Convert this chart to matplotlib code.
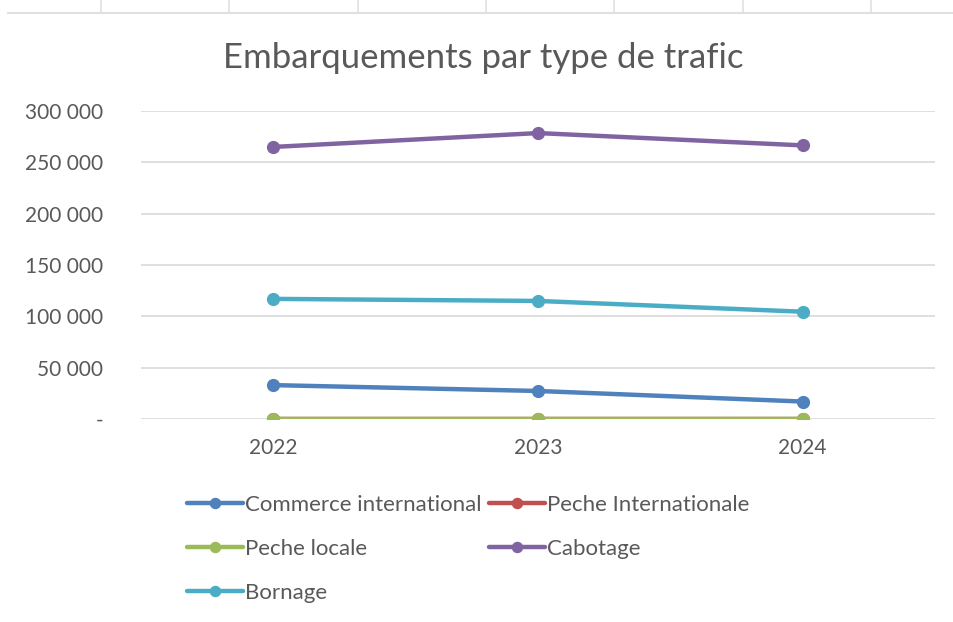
import matplotlib
matplotlib.use("Agg")
import matplotlib.pyplot as plt
from matplotlib.ticker import FuncFormatter, MultipleLocator
from matplotlib.lines import Line2D

plt.rcParams["font.family"] = ["Lato", "DejaVu Sans"]

YEARS = ["2022", "2023", "2024"]
SERIES = ["Commerce international", "Peche Internationale", "Peche locale",
          "Cabotage", "Bornage"]
COMMERCE = [33000, 27300, 17000]
PECHE_INT = [0, 0, 0]
PECHE_LOC = [0, 0, 0]
CABOTAGE = [265000, 278500, 266500]
BORNAGE = [117000, 115000, 104500]
COLORS = ["#4F81BD", "#C0504D", "#9BBB59", "#8064A2", "#4BACC6"]

TXT = "#595959"
GRID = "#D9D9D9"

fig = plt.figure(figsize=(9.54, 6.22), dpi=100)
ax = fig.add_axes([141 / 954, 1 - 419 / 622, 794 / 954, 308 / 622])

x = range(len(YEARS))
handles = []
for vals, name, c in zip([COMMERCE, PECHE_INT, PECHE_LOC, CABOTAGE, BORNAGE],
                         SERIES, COLORS):
    h, = ax.plot(x, vals, color=c, lw=3.2, marker="o", ms=8.5,
                 solid_capstyle="round", label=name, zorder=3)
    handles.append(h)

ax.set_xlim(-0.5, 2.5)
ax.set_ylim(0, 300000)
ax.set_xticks(list(x))
ax.set_xticklabels(YEARS)
ax.yaxis.set_major_locator(MultipleLocator(50000))
ax.yaxis.set_major_formatter(FuncFormatter(
    lambda v, p: "-" if v == 0 else f"{int(v):,}".replace(",", " ")))
ax.grid(axis="y", color=GRID, lw=1.2, zorder=0)
for s in ax.spines.values():
    s.set_visible(False)
ax.tick_params(length=0, colors=TXT, labelsize=15)
ax.tick_params(axis="y", pad=27)
ax.tick_params(axis="x", pad=14)

fig.text(483 / 954, 1 - 58 / 622, "Embarquements par type de trafic",
         ha="center", va="center", fontsize=25, color=TXT)

# legend in Excel's row-wise order (matplotlib fills columns first)
order = [0, 2, 4, 1, 3]
leg = fig.legend([handles[i] for i in order], [SERIES[i] for i in order],
                 ncol=2, loc="upper left", bbox_to_anchor=(176 / 954, 1 - 484 / 622),
                 frameon=False, fontsize=16, labelcolor=TXT, handlelength=2.5,
                 handletextpad=0.1, columnspacing=0.35, labelspacing=1.08,
                 borderpad=0, markerscale=0.85)

# spreadsheet cell borders peeking at the top
fig.add_artist(Line2D([8 / 954, 1], [1 - 13 / 622] * 2, color="#E0E0E0", lw=1.5,
                      transform=fig.transFigure))
for vx in [101, 229, 358, 486, 614, 743, 871]:
    fig.add_artist(Line2D([vx / 954] * 2, [1, 1 - 13 / 622], color="#E0E0E0", lw=1.2,
                          transform=fig.transFigure))

fig.savefig("out.png", dpi=100)
